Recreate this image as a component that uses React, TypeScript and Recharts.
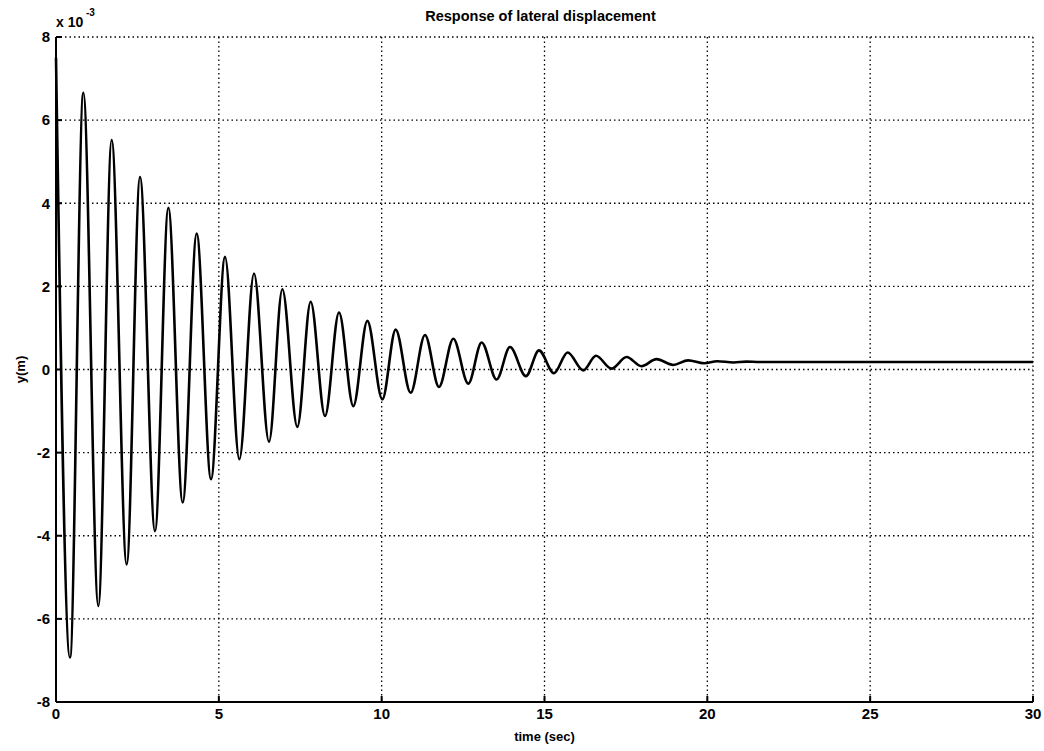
import { LineChart, Line, XAxis, YAxis, CartesianGrid, Label } from 'recharts';

// Damped lateral displacement response, y in units of 10^-3 m
// (peaks / troughs)
const TIME = [
  0, 0.43, 0.84, 1.3, 1.71, 2.17, 2.58, 3.04, 3.45, 3.89, 4.32, 4.76, 5.19,
  5.63, 6.08, 6.54, 6.95, 7.41, 7.82, 8.26, 8.69, 9.13, 9.56, 10.02, 10.43,
  10.89, 11.33, 11.76, 12.2, 12.66, 13.07, 13.53, 13.94, 14.43, 14.83, 15.29,
  15.71, 16.19, 16.58, 17.06, 17.52, 17.98, 18.44, 18.95, 19.41, 19.9, 20.3,
  20.8, 21.2, 21.6, 30,
];
const DISP = [
  7.5, -6.93, 6.66, -5.69, 5.52, -4.69, 4.63, -3.89, 3.89, -3.2, 3.27, -2.64,
  2.71, -2.16, 2.31, -1.74, 1.93, -1.38, 1.63, -1.12, 1.37, -0.88, 1.17, -0.72,
  0.96, -0.56, 0.83, -0.42, 0.74, -0.34, 0.65, -0.24, 0.54, -0.16, 0.46, -0.09,
  0.41, -0.02, 0.33, 0.02, 0.3, 0.08, 0.25, 0.11, 0.22, 0.15, 0.2, 0.17, 0.19,
  0.18, 0.18,
];
const X_TICKS = [0, 5, 10, 15, 20, 25, 30];
const Y_TICKS = [-8, -6, -4, -2, 0, 2, 4, 6, 8];

const data = TIME.map((t, i) => ({ t, y: DISP[i] }));

const FONT = '"Liberation Sans", Arial, Helvetica, sans-serif';
const tickStyle = { fill: '#000', fontSize: 15, fontWeight: 700, fontFamily: FONT };
const labelStyle = { fill: '#000', fontSize: 13, fontWeight: 700, fontFamily: FONT };
const axisLine = { stroke: '#000', strokeWidth: 2 };
const tickLine = { stroke: '#000', strokeWidth: 2 };
const blank = () => '';

export default function App() {
  return (
    <div
      style={{
        position: 'absolute',
        left: 0,
        top: 0,
        width: 1044,
        height: 751,
        background: '#fff',
        fontFamily: FONT,
      }}
    >
      {/* title */}
      <div
        style={{
          position: 'absolute',
          left: 52,
          width: 977,
          top: 8,
          textAlign: 'center',
          fontSize: 14.5,
          fontWeight: 700,
          lineHeight: '17px',
        }}
      >
        Response of lateral displacement
      </div>
      {/* axis multiplier */}
      <span style={{ position: 'absolute', left: 56, top: 14, fontSize: 14, fontWeight: 700, lineHeight: '16px' }}>
        x 10
      </span>
      <span style={{ position: 'absolute', left: 86, top: 7, fontSize: 10, fontWeight: 700, lineHeight: '12px' }}>
        -3
      </span>
      <LineChart
        width={1044}
        height={751}
        data={data}
        margin={{ top: 37, right: 11, bottom: 19, left: 6 }}
      >
        <CartesianGrid stroke="#000" strokeDasharray="1.5 3" strokeWidth={1.3} />
        <XAxis
          dataKey="t"
          type="number"
          domain={[0, 30]}
          ticks={X_TICKS}
          height={30}
          tick={tickStyle}
          tickSize={-6}
          tickMargin={12}
          axisLine={axisLine}
          tickLine={tickLine}
          interval={0}
        >
          <Label value="time (sec)" position="bottom" offset={0} style={labelStyle} />
        </XAxis>
        <XAxis
          xAxisId="top"
          orientation="top"
          dataKey="t"
          type="number"
          domain={[0, 30]}
          ticks={X_TICKS}
          height={0}
          tickSize={-6}
          tickFormatter={blank}
          axisLine={axisLine}
          tickLine={tickLine}
          interval={0}
        />
        <YAxis
          type="number"
          domain={[-8, 8]}
          ticks={Y_TICKS}
          width={50}
          tick={tickStyle}
          tickSize={-6}
          tickMargin={12}
          axisLine={axisLine}
          tickLine={tickLine}
          interval={0}
        >
          <Label value="y(m)" angle={-90} position="insideLeft" offset={14} style={{ ...labelStyle, textAnchor: 'middle' }} />
        </YAxis>
        <YAxis
          yAxisId="right"
          orientation="right"
          type="number"
          domain={[-8, 8]}
          ticks={Y_TICKS}
          width={0}
          tickSize={-6}
          tickFormatter={blank}
          axisLine={axisLine}
          tickLine={tickLine}
          interval={0}
        />
        <Line
          type="monotone"
          dataKey="y"
          stroke="#000"
          strokeWidth={2.6}
          dot={false}
          isAnimationActive={false}
        />
      </LineChart>
    </div>
  );
}
